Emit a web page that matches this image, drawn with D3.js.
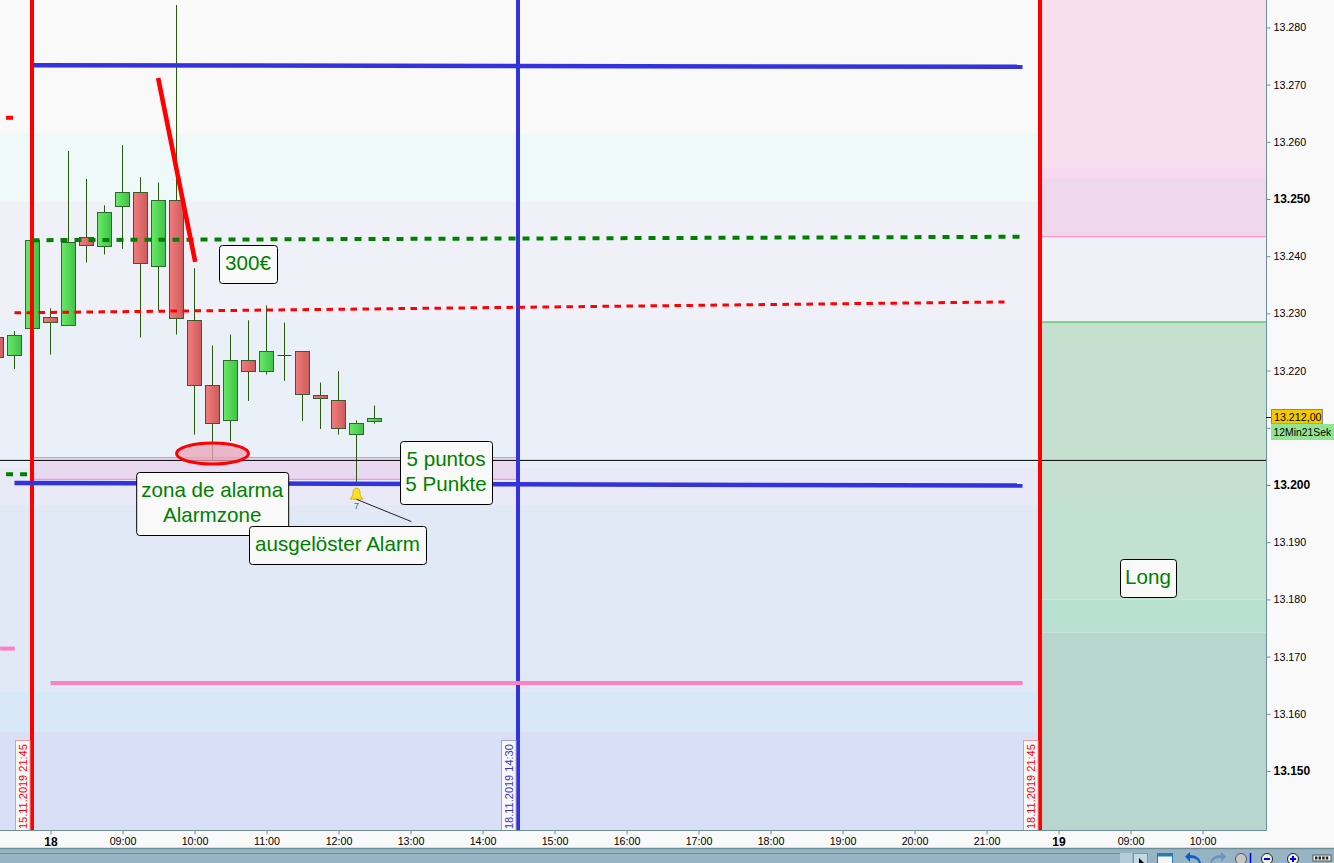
<!DOCTYPE html>
<html>
<head>
<meta charset="utf-8">
<title>Chart</title>
<script src="https://cdnjs.cloudflare.com/ajax/libs/d3/7.8.5/d3.min.js"></script>
<style>
  html, body { margin: 0; padding: 0; background: #f9f9f9; overflow: hidden; }
  svg { display: block; }
  text { font-family: "Liberation Sans", Arial, sans-serif; }
  .axisTick line, .axisTick path { stroke: #6f8f98; }
</style>
</head>
<body>
<div id="chart"></div>
<script>
// DATA - one bar every 15 min, bar 0 = 08:00 on the 18th
const barIndex = [-3,-2,-1,0,1,2,3,4,5,6,7,8,9,10,11,12,13,14,15,16,17,18];
const opens  = [13225.8,13222.8,13227.4,13229.3,13227.9,13243.3,13241.9,13248.9,13251.3,13238.4,13249.9,13228.8,13217.4,13211.3,13221.8,13219.9,13222.8,13223.4,13215.8,13214.8,13208.9,13211.3];
const closes = [13222.3,13226.3,13242.8,13228.4,13242.4,13241.9,13247.8,13251.3,13238.9,13249.9,13229.3,13217.4,13210.8,13221.8,13219.9,13223.4,13222.8,13215.8,13215.3,13209.9,13210.8,13211.8];
const highs  = [13226.9,13226.9,13242.8,13230.9,13258.4,13253.5,13248.9,13259.4,13253.8,13252.9,13283.9,13237.9,13224.4,13226.3,13228.8,13231.4,13228.4,13223.4,13217.9,13219.9,13211.3,13213.9];
const lows   = [13220.3,13220.3,13227.4,13222.8,13227.9,13238.9,13240.3,13241.3,13225.8,13230.5,13226.3,13208.8,13204.4,13207.7,13214.7,13219.3,13218.2,13211.2,13209.8,13208.8,13200.3,13210.7];

const priceTicks = [13150,13160,13170,13180,13190,13200,13210,13220,13230,13240,13250,13260,13270,13280];
const boldPrices = [13150,13200,13250];
const hiddenPrices = [13210]; // label sits behind the two price tags
const timeTicks  = [0,4,8,12,16,20,24,28,32,36,40,44,48,52,56,60,64];
const timeLabels = ['18','09:00','10:00','11:00','12:00','13:00','14:00','15:00','16:00','17:00','18:00','19:00','20:00','21:00','19','09:00','10:00'];
const boldTimes  = ['18','19'];

// background zones, [top price, bottom price, colour]
const leftBands = [
  [13300,13261.5,'#f9f9f9'],[13261.5,13249.5,'#f0f9f9'],[13249.5,13228.85,'#f0f0f9'],
  [13228.85,13203.1,'#e9f0f8'],[13203.1,13196.5,'#e9e9f8'],[13196.5,13163.8,'#e1e8f6'],
  [13163.8,13156.8,'#d8e8f8'],[13156.8,13130,'#d8dff6']
];
const rightBands = [
  [13300,13255.4,'#f7dff0'],[13255.4,13253.5,'#f7d8ee'],[13253.5,13243.4,'#efd8ee'],
  [13243.4,13228.5,'#f0f0f9'],[13228.5,13196.5,'#c6e0d0'],[13196.5,13180,'#c1e1d1'],
  [13180,13174.2,'#b8e0d0'],[13174.2,13130,'#b9d6ce']
];

// drawn lines, [bar, price] start and end
const blueTop   = [[-0.96,13273.4],[54,13273.1]];
const blueLow   = [[-2,13200.35],[54,13199.9]];
const greenDash = [[-1,13242.8],[54,13243.4]];
const redDash   = [[-2,13230.1],[53,13232]];
const pinkLine  = [[0,13165.4],[54,13165.4]];
const redSlant  = [[5.98,13271.15],[8.04,13239]];

const redStub   = [[-2.47,13264.2],[-2.08,13264.2]];
const greenStub = [[-2.47,13201.9],[-1.3,13201.9]];
const pinkStub  = [[-2.8,13171.4],[-1.98,13171.4]];
const alarmLink = [[17,13197.5],[20.05,13193.6]];

const verticals = [[-1,'#ff0000','15.11.2019 21:45'],[26,'#3333dd','18.11.2019 14:30'],[55,'#ff0000','18.11.2019 21:45']];

const zoneBars   = [-1,26];
const zonePrices = [13204.8,13201];
const lastLine   = 13204.3;
const tpPrice    = 13243.4;
const slPrice    = 13228.5;
const ellipseAt  = [9,13205.5];
const alarmAt    = [17,13198.4];

// DIMENSION
const width = 1334, height = 863;
const plotRight = 1266, plotBottom = 830;

const xScale = d3.scaleLinear().domain([0,64]).range([50.5,1202.5]);
const yScale = d3.scaleLinear().domain([13150,13280]).range([771,27.4]);

const svg = d3.select('#chart').append('svg').attr('width',width).attr('height',height);
const defs = svg.append('defs');

defs.append('clipPath').attr('id','plotClip').append('rect')
    .attr('width',plotRight).attr('height',plotBottom);

function bodyGradient(id, from, to){
    const g = defs.append('linearGradient').attr('id',id);
    g.append('stop').attr('offset','0%').attr('stop-color',from);
    g.append('stop').attr('offset','100%').attr('stop-color',to);
}
bodyGradient('upFill','#68ea68','#42c048');
bodyGradient('downFill','#f27c7c','#cc5c5c');

svg.append('rect').attr('width',width).attr('height',height).attr('fill','#f9f9f9');

const plot = svg.append('g').attr('clip-path','url(#plotClip)');

// BANDS
const splitX = xScale(55);
plot.selectAll('.bandL').data(leftBands).join('rect').attr('class','bandL')
    .attr('x',0).attr('width',splitX)
    .attr('y',d => yScale(d[0])).attr('height',d => yScale(d[1]) - yScale(d[0]))
    .attr('fill',d => d[2]);
plot.selectAll('.bandR').data(rightBands).join('rect').attr('class','bandR')
    .attr('x',splitX).attr('width',plotRight - splitX)
    .attr('y',d => yScale(d[0])).attr('height',d => yScale(d[1]) - yScale(d[0]))
    .attr('fill',d => d[2]);

// TP / SL thin lines
plot.append('line').attr('x1',splitX).attr('x2',plotRight).attr('y1',yScale(tpPrice)).attr('y2',yScale(tpPrice))
    .attr('stroke','#ff80c0').attr('stroke-width',1);
plot.append('line').attr('x1',splitX).attr('x2',plotRight).attr('y1',yScale(slPrice)).attr('y2',yScale(slPrice))
    .attr('stroke','#30b830').attr('stroke-width',1);

const lineGen = d3.line().x(d => xScale(d[0])).y(d => yScale(d[1]));
function drawLine(pts, color, w, dash){
    return plot.append('path').attr('d',lineGen(pts)).attr('fill','none')
        .attr('stroke',color).attr('stroke-width',w).attr('stroke-dasharray',dash || null);
}

// ALARM ZONE
plot.append('rect')
    .attr('x',xScale(zoneBars[0])).attr('width',xScale(zoneBars[1]) - xScale(zoneBars[0]))
    .attr('y',yScale(zonePrices[0])).attr('height',yScale(zonePrices[1]) - yScale(zonePrices[0]))
    .attr('fill','#e8d8f0');
zonePrices.forEach(p => {
    plot.append('line').attr('x1',xScale(zoneBars[0])).attr('x2',xScale(zoneBars[1]))
        .attr('y1',yScale(p)).attr('y2',yScale(p))
        .attr('stroke','#e88cc0').attr('stroke-width',1);
});

// CANDLES
const candles = barIndex.map((b,i) => ({b, o:opens[i], c:closes[i], h:highs[i], l:lows[i]}));
const bars = plot.selectAll('.candle').data(candles).join('g').attr('class','candle');
bars.append('line')
    .attr('x1',d => xScale(d.b)).attr('x2',d => xScale(d.b))
    .attr('y1',d => yScale(d.h)).attr('y2',d => yScale(d.l))
    .attr('stroke','#2a5a10').attr('stroke-width',1);
bars.filter(d => d.o !== d.c).append('rect')
    .attr('x',d => xScale(d.b) - 7).attr('width',14)
    .attr('y',d => Math.round(yScale(Math.max(d.o,d.c))) + 0.5)
    .attr('height',d => Math.round(Math.abs(yScale(d.o) - yScale(d.c))))
    .attr('fill',d => d.c >= d.o ? 'url(#upFill)' : 'url(#downFill)')
    .attr('stroke',d => d.c >= d.o ? '#2c6a2c' : '#3a5a30').attr('stroke-width',1);
// doji: open and close are the same
bars.filter(d => d.o === d.c).append('line')
    .attr('x1',d => xScale(d.b) - 7).attr('x2',d => xScale(d.b) + 7)
    .attr('y1',d => Math.round(yScale(d.o)) + 0.5).attr('y2',d => Math.round(yScale(d.o)) + 0.5)
    .attr('stroke','#2a5a10').attr('stroke-width',1);

// last price line
plot.append('line').attr('x1',0).attr('x2',plotRight).attr('y1',yScale(lastLine)).attr('y2',yScale(lastLine))
    .attr('stroke','#000').attr('stroke-width',1);

// VERTICALS
plot.selectAll('.vline').data(verticals).join('line').attr('class','vline')
    .attr('x1',d => xScale(d[0]) - 0.5).attr('x2',d => xScale(d[0]) - 0.5)
    .attr('y1',0).attr('y2',plotBottom)
    .attr('stroke',d => d[1]).attr('stroke-width',4);

// date flags next to the verticals
const flags = plot.selectAll('.flag').data(verticals).join('g').attr('class','flag')
    .attr('transform',d => `translate(${xScale(d[0]) - 2.5},${plotBottom})`);
flags.append('rect').attr('x',-14.5).attr('y',-89.5).attr('width',14.5).attr('height',90)
    .attr('fill','#f9f9f9')
    .attr('stroke',d => d[1] === '#ff0000' ? '#f09898' : '#a0a0e8').attr('stroke-width',1);
flags.append('text').attr('transform','rotate(-90)')
    .attr('x',1).attr('y',-3).attr('font-size',11)
    .attr('fill',d => d[1]).text(d => d[2]);

// DRAWN LINES
drawLine(blueTop,'#3333dd',4.5);
drawLine(blueLow,'#3333dd',4.5);
drawLine(greenDash,'#008000',4,'7 7');
drawLine(redDash,'#ff0000',3,'6.5 5.5');
drawLine(pinkLine,'#ff80c0',4);
drawLine(redSlant,'#ff0000',4.6);
drawLine(redStub,'#ff0000',4);
drawLine(greenStub,'#008000',4,'7 7');
drawLine(pinkStub,'#ff80c0',4);

// ALARM ELLIPSE
plot.append('ellipse')
    .attr('cx',xScale(ellipseAt[0])).attr('cy',yScale(ellipseAt[1]))
    .attr('rx',36).attr('ry',10.5)
    .attr('fill','#e8a4b8').attr('fill-opacity',0.75)
    .attr('stroke','#ff0000').attr('stroke-width',3);

// ALARM BELL on the bar that hit it
const bell = plot.append('g')
    .attr('transform',`translate(${xScale(alarmAt[0])},${yScale(alarmAt[1])})`);
bell.append('path')
    .attr('d','M0,-6 C3,-6 3.5,-3 3.5,-1 C3.5,1.5 5,3 6.3,5 L-6.3,5 C-5,3 -3.5,1.5 -3.5,-1 C-3.5,-3 -3,-6 0,-6 Z')
    .attr('fill','#ffe020').attr('stroke','#c8a800').attr('stroke-width',0.8);
bell.append('text').attr('x',0).attr('y',14.5).attr('text-anchor','middle')
    .attr('font-size',9).attr('fill','#4060a0').text('7');

drawLine(alarmLink,'#202030',1);

// CALLOUTS
const callouts = [
    { lines:['300€'], w:58, h:38, cx:248.5, cy:264.5 },
    { lines:['zona de alarma','Alarmzone'], w:152, h:63, cx:212.7, cy:504 },
    { lines:['ausgelöster Alarm'], w:177, h:38, cx:338, cy:545.5 },
    { lines:['5 puntos','5 Punkte'], w:92, h:63, cx:446.5, cy:473 },
    { lines:['Long'], w:56, h:38, cx:1148.5, cy:578.5 }
];
const notes = plot.selectAll('.note').data(callouts).join('g').attr('class','note')
    .attr('transform',d => `translate(${d.cx},${d.cy})`);
notes.append('rect')
    .attr('x',d => -d.w/2).attr('y',d => -d.h/2).attr('width',d => d.w).attr('height',d => d.h)
    .attr('rx',3).attr('fill','#f9f9f9').attr('stroke','#000').attr('stroke-width',1);
notes.each(function(d){
    const n = d.lines.length;
    d3.select(this).selectAll('text').data(d.lines).join('text')
        .attr('text-anchor','middle')
        .attr('x',-0.5)
        .attr('y',(t,i) => (i - (n - 1)/2)*24.6 + 5.5)
        .attr('font-size',20.6).attr('fill','#008000').text(t => t);
});

// AXES
const yAxisG = svg.append('g').attr('class','axisTick')
    .attr('transform',`translate(${plotRight + 0.5},0)`)
    .call(d3.axisRight(yScale).tickValues(priceTicks).tickSize(4).tickPadding(3)
        .tickFormat(d => hiddenPrices.includes(d) ? '' : d3.format('.3f')(d/1000)));
yAxisG.select('.domain').attr('d',`M0,0V${plotBottom + 0.5}`);
yAxisG.selectAll('text')
    .attr('font-family','"Liberation Sans", Arial, sans-serif')
    .attr('fill','#000')
    .attr('font-size',d => boldPrices.includes(d) ? 12 : 10.7)
    .attr('font-weight',d => boldPrices.includes(d) ? 'bold' : 'normal');

const xAxisG = svg.append('g').attr('class','axisTick')
    .attr('transform',`translate(0,${plotBottom + 0.5})`)
    .call(d3.axisBottom(xScale).tickValues(timeTicks).tickSize(4).tickPadding(3)
        .tickFormat((d,i) => timeLabels[i]));
xAxisG.select('.domain').attr('d',`M0,0H${plotRight + 0.5}`);
xAxisG.selectAll('text')
    .attr('font-family','"Liberation Sans", Arial, sans-serif')
    .attr('fill','#000')
    .attr('font-size',(d,i) => boldTimes.includes(timeLabels[i]) ? 12 : 10.7)
    .attr('font-weight',(d,i) => boldTimes.includes(timeLabels[i]) ? 'bold' : 'normal');

// PRICE TAGS
const lastTag = svg.append('g');
lastTag.append('line').attr('x1',plotRight).attr('x2',1272).attr('y1',417.5).attr('y2',417.5).attr('stroke','#000');
lastTag.append('rect').attr('x',1271.5).attr('y',409.5).attr('width',51).attr('height',14.5)
    .attr('fill','#f5c800').attr('stroke','#808890');
lastTag.append('text').attr('x',1274).attr('y',421).attr('font-size',10.7).attr('fill','#000').text('13.212,00');

const timerTag = svg.append('g');
timerTag.append('rect').attr('x',1271).attr('y',424).attr('width',63).attr('height',16).attr('fill','#92e492');
timerTag.append('text').attr('x',1273.5).attr('y',436).attr('font-size',10.4).attr('fill','#000').text('12Min21Sek');

// TOOLBAR
const bar = svg.append('g');
bar.append('rect').attr('y',848).attr('width',width).attr('height',15).attr('fill','#96b4c4');
bar.append('line').attr('x1',0).attr('x2',width).attr('y1',848.5).attr('y2',848.5).attr('stroke','#6f8f98').attr('stroke-width',1.5);
bar.append('line').attr('x1',0).attr('x2',1120).attr('y1',853.5).attr('y2',853.5).attr('stroke','#6f8f98');
bar.append('rect').attr('x',1120).attr('y',853).attr('width',12).attr('height',10).attr('fill','#b4ccd8');
bar.append('rect').attr('x',1133.5).attr('y',853.5).attr('width',14).attr('height',10).attr('fill','#c4d8e2').attr('stroke','#7a98a8');
bar.append('path').attr('d','M1139,858 L1144,863 L1139,863 Z').attr('fill','#000');
// calendar
bar.append('rect').attr('x',1157.5).attr('y',853.5).attr('width',15).attr('height',10).attr('fill','#f4f4f4').attr('stroke','#2a7ab8');
bar.append('rect').attr('x',1157).attr('y',853).attr('width',16).attr('height',3.5).attr('fill','#2a7ab8');
// undo / redo
bar.append('path').attr('d','M1199,863 C1198,859 1194,858 1190,858 L1190,862 L1185,856.5 L1190,852 L1190,855 C1196,855 1200,858 1201,863 Z').attr('fill','#0a60d0');
bar.append('path').attr('d','M1212,863 C1213,859 1217,858 1221,858 L1221,862 L1226,856.5 L1221,852 L1221,855 C1215,855 1211,858 1210,863 Z').attr('fill','#6a94c4');
// zoom
bar.append('circle').attr('cx',1241).attr('cy',859).attr('r',5.5).attr('fill','#c8c8c8').attr('stroke','#555');
bar.append('line').attr('x1',1250.5).attr('x2',1250.5).attr('y1',853).attr('y2',863).attr('stroke','#0000e0').attr('stroke-width',1.5);
[1267,1293].forEach((cx,i) => {
    bar.append('circle').attr('cx',cx).attr('cy',859).attr('r',5.5).attr('fill','#f0f0f0').attr('stroke','#222');
    bar.append('line').attr('x1',cx - 3).attr('x2',cx + 3).attr('y1',859).attr('y2',859).attr('stroke','#0000e0').attr('stroke-width',2);
    if(i === 1) bar.append('line').attr('x1',cx).attr('x2',cx).attr('y1',856).attr('y2',862).attr('stroke','#0000e0').attr('stroke-width',2);
});
// dots
bar.append('rect').attr('x',1313).attr('y',855).attr('width',18).attr('height',6).attr('fill','#f0f0f0').attr('stroke','#555');
d3.range(4).forEach(i => bar.append('rect').attr('x',1315 + i*3.6).attr('y',856.5).attr('width',2.4).attr('height',3).attr('fill','#222'));
</script>
</body>
</html>
